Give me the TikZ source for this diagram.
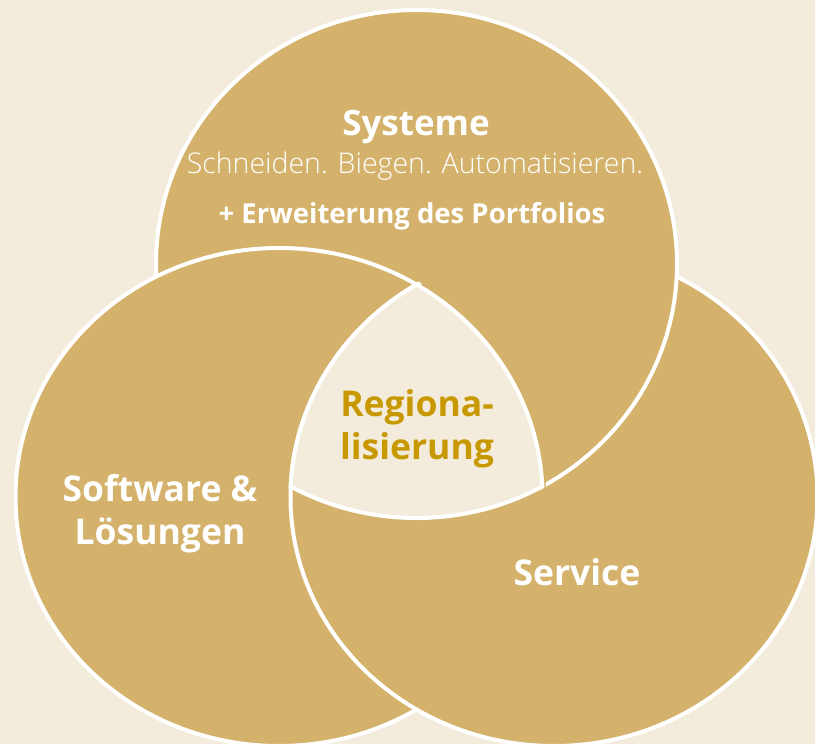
\documentclass[tikz,border=0pt]{standalone}
\usepackage{fontspec}
\setmainfont{Open Sans}
\IfFontExistsTF{Open Sans Light}{\newfontfamily\lightfont{Open Sans Light}}{\newfontfamily\lightfont{Open Sans}}
\definecolor{bgc}{RGB}{243,236,220}
\definecolor{goldfill}{RGB}{212,178,107}
\definecolor{goldtext}{RGB}{200,152,0}
\begin{document}
\begin{tikzpicture}[x=1pt,y=-1pt,
  pT/.style={insert path={(416.5,264) ellipse [x radius=260.5, y radius=254]}},
  pL/.style={insert path={(279,497) ellipse [x radius=263.5, y radius=249]}},
  pR/.style={insert path={(554,497) ellipse [x radius=263.5, y radius=249]}},
  pTx/.style={insert path={(416.5,264) ellipse [x radius=262.5, y radius=256]}},
  pLx/.style={insert path={(279,497) ellipse [x radius=265.5, y radius=251]}},
  pRx/.style={insert path={(554,497) ellipse [x radius=265.5, y radius=251]}},
  pLw/.style={insert path={(279,497) ellipse [x radius=267, y radius=252.5]}},
  ring/.style={draw=white, line width=4pt, fill=goldfill},
  rim/.style={draw=white, line width=4pt},
  lbl/.style={text=white, align=center, inner sep=0pt},
  big/.style={font=\bfseries\fontsize{35.5}{43}\selectfont}]
\useasboundingbox (0,0) rectangle (815,744);
\fill[bgc] (0,0) rectangle (815,744);
\clip (0,0) rectangle (815,744);
% painter order: right, top, left
\path[ring, pR];
\path[ring, pT];
\path[ring, pL];
% right circle over left circle
\begin{scope}
  \clip[pLw];
  \path[ring, pR];
\end{scope}
% centre region
\begin{scope}
  \clip[pT]; \clip[pL]; \clip[pR];
  \fill[bgc] (0,0) rectangle (815,744);
\end{scope}
\begin{scope}\clip[pLx]; \clip[pRx]; \path[rim, pT];\end{scope}
\begin{scope}\clip[pTx]; \clip[pRx]; \path[rim, pL];\end{scope}
\begin{scope}\clip[pTx]; \clip[pLx]; \path[rim, pR];\end{scope}
% texts
\node[lbl, font=\bfseries\fontsize{35}{43}\selectfont] (sys) at (416,127) {Systeme};
\node[lbl, font=\lightfont\fontsize{28.5}{30}\selectfont] (sub) at (415,166) {Schneiden. Biegen. Automatisieren.};
\node[lbl, font=\bfseries\fontsize{27.5}{28}\selectfont] (ext) at (412,216) {+ Erweiterung des Portfolios};
\node[lbl, big] (sw) at (160,514) {Software \&\\Lösungen};
\node[lbl, big] (srv) at (577,572) {Service};
\node[lbl, big, text=goldtext] (reg) at (417,429) {Regiona-\\lisierung};
\end{tikzpicture}
\end{document}
